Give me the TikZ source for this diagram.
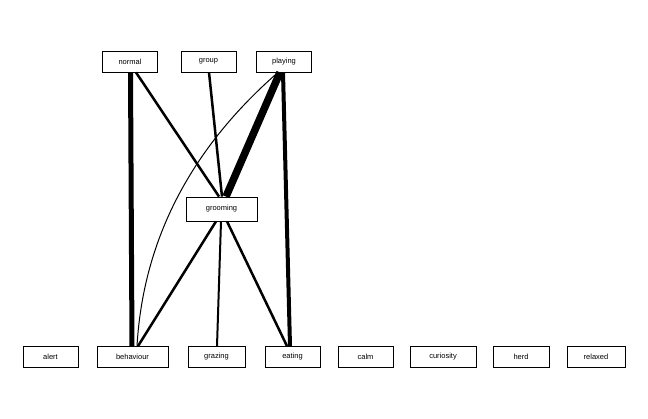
\documentclass[tikz,border=0pt]{standalone}
\usepackage{fontspec}
\setmainfont{Liberation Sans}
\usetikzlibrary{positioning}
\tikzset{
  term/.style={draw=black, line width=0.8pt, minimum width=55pt, minimum height=21pt,
    inner sep=0pt, font=\fontsize{7.5}{8}\selectfont},
  link/.style={draw=black, line width=#1},
}
\begin{document}
\begin{tikzpicture}[x=1pt, y=-1pt]
\useasboundingbox[fill=white] (0, 0) rectangle (648, 419);
% upper row
\node[term] (normal) at (130, 61.5) {normal};
\node[term] (group) at (208.5, 61.5) {group};
\node[term] (playing) at (284, 61.5) {playing};
% middle
\node[term, minimum width=71pt, minimum height=24pt] (grooming) at (221.5, 209) {grooming};
% lower row
\node[term] (alert) at (50.5, 357) {alert};
\node[term, minimum width=71pt] (behaviour) at (132.5, 357) {behaviour};
\node[term, minimum width=57pt] (grazing) at (216.5, 357) {grazing};
\node[term] (eating) at (292.5, 357) {eating};
\node[term] (calm) at (365.5, 357) {calm};
\node[term, minimum width=66pt] (curiosity) at (443, 357) {curiosity};
\node[term, minimum width=56pt] (herd) at (521, 357) {herd};
\node[term, minimum width=58pt] (relaxed) at (596, 357) {relaxed};
% links
\draw[link=5pt] ([xshift=0.5pt]normal.south) -- ([xshift=-0.5pt]behaviour.north);
\draw[link=2.5pt] ([xshift=6pt]normal.south) -- ([xshift=-2.5pt]grooming.north);
\draw[link=2.5pt] ([xshift=0.5pt]group.south) -- ([xshift=0.5pt]grooming.north);
\draw[link=7.5pt] ([xshift=-4pt]playing.south) -- ([xshift=4.5pt]grooming.north);
\draw[link=1pt] ([xshift=-6pt]playing.south) .. controls (188, 151) and (143, 243) .. ([xshift=4.5pt]behaviour.north);
\draw[link=4pt] ([xshift=-1pt]playing.south) -- ([xshift=-2.5pt]eating.north);
\draw[link=2.5pt] ([xshift=-5.5pt]grooming.south) -- ([xshift=5.5pt]behaviour.north);
\draw[link=2pt] ([xshift=-0.5pt]grooming.south) -- ([xshift=0.5pt]grazing.north);
\draw[link=2.5pt] ([xshift=5.5pt]grooming.south) -- ([xshift=-5.5pt]eating.north);
\end{tikzpicture}
\end{document}
